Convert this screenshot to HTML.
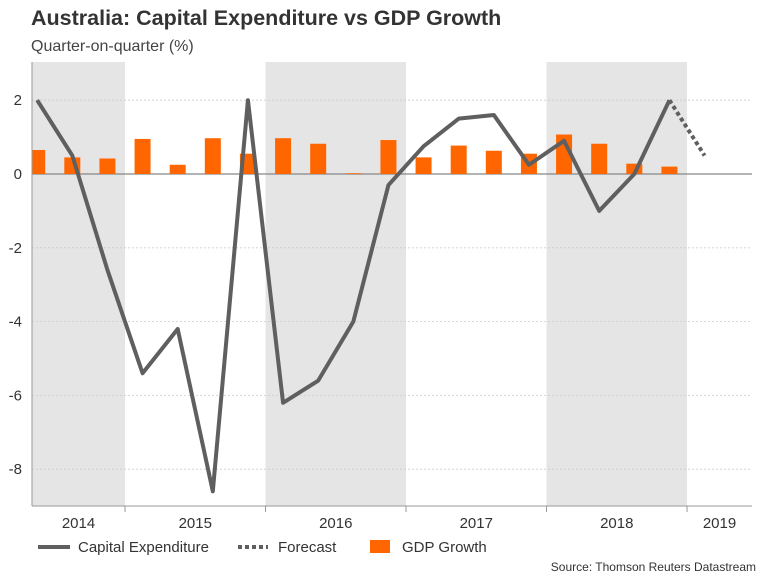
<!DOCTYPE html>
<html><head><meta charset="utf-8"><style>
body{margin:0;background:#fff;font-family:"Liberation Sans",Arial,sans-serif;}
</style></head><body>
<svg width="768" height="576" xmlns="http://www.w3.org/2000/svg" font-family="Liberation Sans, Arial, sans-serif">
<defs><clipPath id="plotclip"><rect x="32" y="62" width="720" height="444"/></clipPath></defs>
<rect width="768" height="576" fill="#fff"/>
<text x="31" y="25" font-size="21.5" font-weight="bold" fill="#333">Australia: Capital Expenditure vs GDP Growth</text>
<text x="31" y="51" font-size="16" fill="#444">Quarter-on-quarter (%)</text>
<g id="shades"></g>
<g id="grid"></g>
<g id="bars" clip-path="url(#plotclip)"></g>
<g id="lines"></g>
<g id="axes"></g>
<g>
<line x1="38" y1="547" x2="70" y2="547" stroke="#5f5f5f" stroke-width="4"/>
<text x="78" y="552" font-size="15" fill="#333">Capital Expenditure</text>
<line x1="238" y1="547" x2="268" y2="547" stroke="#5f5f5f" stroke-width="4" stroke-dasharray="4,3"/>
<text x="278" y="552" font-size="15" fill="#333">Forecast</text>
<rect x="370" y="540" width="20" height="13" fill="#ff6600"/>
<text x="402" y="552" font-size="15" fill="#333">GDP Growth</text>
</g>
<text x="756" y="571" font-size="12" fill="#333" text-anchor="end">Source: Thomson Reuters Datastream</text>
</svg>
<script>
const years = ['2014','2015','2016','2017','2018','2019'];
const yTicks = [2,0,-2,-4,-6,-8];
const gdp = [0.65,0.45,0.42,0.95,0.25,0.97,0.55,0.97,0.82,0.02,0.92,0.45,0.77,0.63,0.55,1.07,0.82,0.28,0.2];
const capex = [2.0,0.5,-2.6,-5.4,-4.2,-8.6,2.0,-6.2,-5.6,-4.0,-0.3,0.75,1.5,1.6,0.25,0.9,-1.0,0.0,2.0];
const forecast = [2.0,0.5];
const NS='http://www.w3.org/2000/svg';
const L=32,R=752,T=62,B=506;
const Q=140.5/4; const x0=125-140.5;
function xq(i){return x0+Q*(i+1)+Q/2;}
function yv(v){return 174-v*36.9;}
function mk(p,tag,a){const e=document.createElementNS(NS,tag);for(const k in a)e.setAttribute(k,a[k]);p.appendChild(e);return e;}
const sh=document.getElementById('shades');
years.forEach((y,k)=>{
  const a=Math.max(L,x0+k*140.5), b=Math.min(R,x0+(k+1)*140.5);
  if(k%2===0 && k<5){const r=mk(sh,'rect',{x:a,y:T,width:b-a,height:B-T,fill:'#e5e5e5'});
  
  }
  const t=mk(document.getElementById('axes'),'text',{x:(a+b)/2,y:528,'font-size':15,fill:'#333','text-anchor':'middle'});
  t.textContent=y;
  
  
  if(k>0){const tk=mk(document.getElementById('axes'),'line',{x1:a,x2:a,y1:B,y2:B+6,stroke:'#999'});
  
  }
});
const g=document.getElementById('grid');
yTicks.forEach(v=>{
  const l=mk(g,'line',{x1:L,x2:R,y1:yv(v),y2:yv(v),stroke:v===0?'#888':'#ccc','stroke-width':v===0?1.2:0.8,'stroke-dasharray':v===0?'':'2,2'});
  
  
  const t=mk(g,'text',{x:22,y:yv(v)+5,'font-size':15,fill:'#333','text-anchor':'end'});
  t.textContent=v;
  
  
});
const bg=document.getElementById('bars');
gdp.forEach((v,i)=>{
  const r=mk(bg,'rect',{x:xq(i)-8,y:Math.min(yv(v),yv(0)),width:16,height:Math.max(Math.abs(yv(v)-yv(0)),0.5),fill:'#ff6600'});
  
  
});
const lg=document.getElementById('lines');
const p1=mk(lg,'polyline',{points:capex.map((v,i)=>xq(i)+','+yv(v)).join(' '),fill:'none',stroke:'#5f5f5f','stroke-width':4,'stroke-linejoin':'round'});


const n=capex.length-1;
const p2=mk(lg,'polyline',{points:forecast.map((v,i)=>xq(n+i)+','+yv(v)).join(' '),fill:'none',stroke:'#5f5f5f','stroke-width':4,'stroke-dasharray':'4,3'});


const ax=document.getElementById('axes');
const a1=mk(ax,'line',{x1:L,x2:L,y1:T,y2:B,stroke:'#999'});


const a2=mk(ax,'line',{x1:L,x2:R,y1:B,y2:B,stroke:'#999'});


</script>
</body></html>
